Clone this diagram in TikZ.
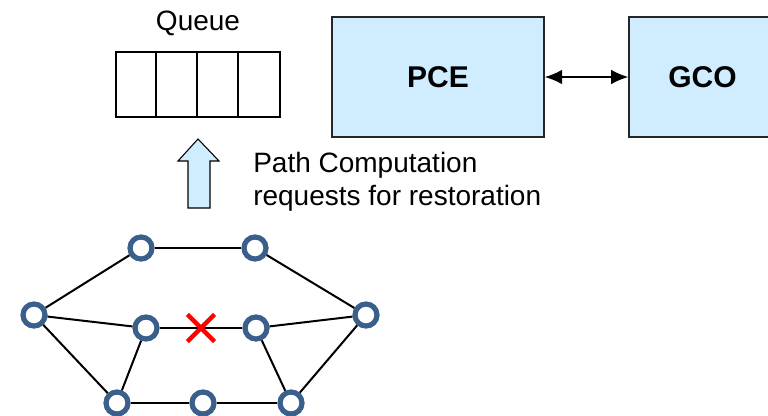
\documentclass[tikz,border=0pt]{standalone}
\usepackage{fontspec}
\setmainfont{Liberation Sans}
\usetikzlibrary{arrows.meta,shapes.misc}
\definecolor{boxblue}{RGB}{207,237,255}
\definecolor{ringblue}{RGB}{58,95,138}
\begin{document}
\begin{tikzpicture}[x=0.75pt,y=-0.75pt,
    box/.style={draw=black!85, line width=1.2pt, fill=boxblue, inner sep=0pt,
      minimum height=90pt, font=\fontsize{22.5}{27}\selectfont\bfseries},
    router/.style={circle, draw=ringblue, line width=3.9pt, minimum size=16.5pt,
      inner sep=0pt, fill=white},
    link/.style={line width=1.5pt},
    label/.style={inner sep=0pt, font=\fontsize{21}{25}\selectfont}]
    \useasboundingbox (0,0) rectangle (768,415);

    % Queue
    \def\cellw{41}
    \node[draw, line width=1.3pt, minimum width=123pt, minimum height=48.75pt] (queue) at (198,84.5) {};
    \foreach \i in {1,2,3}
        \draw[line width=1.3pt] (queue.north west) ++(\i*\cellw,0) -- ++(0,65);
    \node[label] (qlabel) at (198,23) {Queue};

    % PCE und GCO
    \node[box, minimum width=159pt] (pce) at (438,77) {PCE};
    \node[box, minimum width=110pt] (gco) at (702.5,77) {GCO};
    \draw[{Latex[length=13pt,width=11pt]}-{Latex[length=13pt,width=11pt]}, line width=1.2pt] (pce) -- (gco);

    % Pfeil nach oben
    \draw[fill=boxblue, line width=0.8pt] (198,139) -- (219,161) -- (210,161) -- (210,208)
        -- (188,208) -- (188,161) -- (178,161) -- cycle;
    \node[label, anchor=north west, align=left] (req) at (253,152) {Path Computation\\requests for restoration};

    % Netz
    \node[router] (r1) at (141,248) {};
    \node[router] (r2) at (255,248) {};
    \node[router] (r3) at (34,315) {};
    \node[router] (r4) at (146,328) {};
    \node[router] (r5) at (256,328) {};
    \node[router] (r6) at (366,315) {};
    \node[router] (r7) at (117,403) {};
    \node[router] (r8) at (203,403) {};
    \node[router] (r9) at (291,403) {};
    \foreach \a/\b in {r1/r2, r1/r3, r2/r6, r3/r4, r3/r7, r4/r5, r5/r6, r4/r7, r5/r9, r6/r9, r7/r8, r8/r9}
        \draw[link] (\a) -- (\b);

    % Ausfall
    \node[cross out, draw=red, line width=3.4pt, minimum size=17pt, inner sep=0pt] (cut) at (201,328) {};
\end{tikzpicture}
\end{document}
